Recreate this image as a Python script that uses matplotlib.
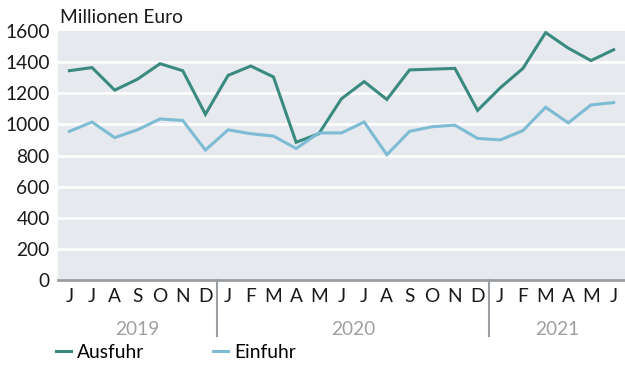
import matplotlib.pyplot as plt
from matplotlib.lines import Line2D
import matplotlib.transforms as mtransforms

plt.rcParams['font.family'] = ['Lato', 'DejaVu Sans']

# Monatswerte Juni 2019 bis Juni 2021, Mio. Euro
monate = ["J", "J", "A", "S", "O", "N", "D",
          "J", "F", "M", "A", "M", "J", "J", "A", "S", "O", "N", "D",
          "J", "F", "M", "A", "M", "J"]
ausfuhr = [1345, 1365, 1220, 1290, 1390, 1345, 1065,
           1315, 1375, 1305, 885, 940, 1165, 1275, 1160, 1350, 1355, 1360, 1090,
           1235, 1360, 1590, 1490, 1410, 1480]
einfuhr = [955, 1015, 915, 965, 1035, 1025, 835,
           965, 940, 925, 845, 945, 945, 1015, 805, 955, 985, 995, 910,
           900, 960, 1110, 1010, 1125, 1140]
jahre = ["2019", "2020", "2021"]
jahr_start = [0, 7, 19]
jahr_ende = [6, 18, 24]

c_aus = "#3a8a80"
c_ein = "#7dbcd4"
c_grau = "#9a9ea3"
fs = 13.8

fig = plt.figure(figsize=(6.25, 3.65), dpi=100)
ax = fig.add_axes([0.0928, 0.2329, 0.9072, 0.6821])
ax.set_facecolor("#e6eaee")

x = list(range(len(monate)))
ax.plot(x, ausfuhr, color=c_aus, lw=2.2, solid_joinstyle="miter")
ax.plot(x, einfuhr, color=c_ein, lw=2.2, solid_joinstyle="miter")

ax.set_xlim(-0.5, len(monate) - 0.5)
ax.set_ylim(0, 1600)
ax.set_yticks(range(0, 1601, 200))
for y in range(200, 1600, 200):
    ax.axhline(y, color="white", lw=2, zorder=1)
ax.axhline(0, color=c_grau, lw=2, zorder=3, clip_on=False)

for s in ax.spines.values():
    s.set_visible(False)

ax.set_xticks(x)
ax.set_xticklabels(monate)
ax.tick_params(axis="x", length=0, pad=6, labelsize=fs, colors="#1a1a1a")
ax.tick_params(axis="y", length=0, pad=6, labelsize=fs, colors="#1a1a1a")

# Jahresbeschriftung und Trennlinien unter der Achse
trans = mtransforms.blended_transform_factory(ax.transData, ax.transAxes)
for j, a, e in zip(jahre, jahr_start, jahr_ende):
    ax.text((a + e) / 2, -0.2, j, transform=trans, ha="center", va="center",
            fontsize=fs, color="#a0a0a0")
for e in jahr_ende[:-1]:
    ax.add_line(Line2D([e + 0.5, e + 0.5], [0, -0.225], transform=trans,
                       color=c_grau, lw=1.5, clip_on=False))

fig.text(0.096, 0.952, "Millionen Euro", ha="left", va="center",
         fontsize=fs, color="#1a1a1a")

handles = [Line2D([], [], color=c_aus, lw=2.2), Line2D([], [], color=c_ein, lw=2.2)]
fig.legend(handles, ["Ausfuhr", "Einfuhr"], loc="center left",
           bbox_to_anchor=(0.089, 0.035), ncol=2, frameon=False,
           fontsize=fs, handlelength=0.8, handletextpad=0.3,
           columnspacing=3.6, borderaxespad=0, borderpad=0)

fig.savefig("out.png", dpi=100)
